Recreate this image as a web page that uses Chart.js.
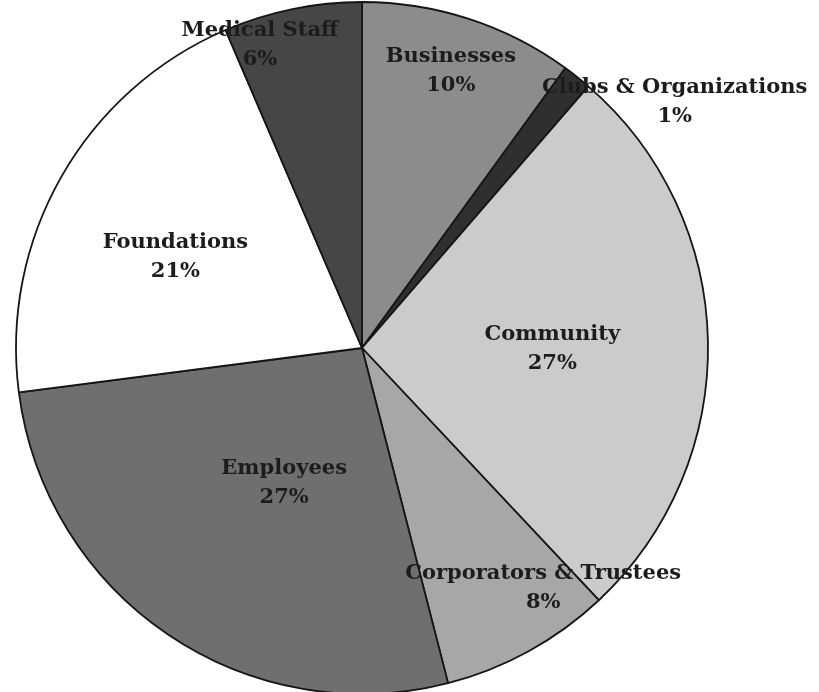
<!DOCTYPE html>
<html>
<head>
<meta charset="utf-8">
<script src="https://cdn.jsdelivr.net/npm/chart.js@4"></script>
<style>
  html, body { margin: 0; padding: 0; background: #fff; }
  #wrap { width: 819px; height: 692px; position: relative; }
</style>
</head>
<body>
<div id="wrap"><canvas id="c" width="819" height="692"></canvas></div>
<script>
// ---- data ----
const categories = ["Businesses", "Clubs & Organizations", "Community", "Corporators & Trustees", "Employees", "Foundations", "Medical Staff"];
const shares = [10.0, 1.35, 26.65, 8.0, 26.95, 20.6, 6.45];
const percentLabels = ["10%", "1%", "27%", "8%", "27%", "21%", "6%"];

// ---- styling / label placement (polar: angle in degrees from top clockwise, distance as fraction of radius) ----
const sliceColors = ["#8c8c8c", "#2f2f2f", "#cbcbcb", "#a7a7a7", "#6f6f6f", "#ffffff", "#464646"];
const labelPolar = [[17.8, 0.84], [51.8, 1.15], [90.3, 0.55], [143, 0.87], [210, 0.45], [296, 0.6], [341.4, 0.925]];

const labelPlugin = {
  id: 'sliceLabels',
  afterDatasetsDraw(chart) {
    const ctx = chart.ctx;
    const meta = chart.getDatasetMeta(0);
    ctx.save();
    ctx.font = 'bold 21px "DejaVu Serif"';
    ctx.fillStyle = '#1c1c1c';
    ctx.textAlign = 'center';
    ctx.textBaseline = 'middle';
    meta.data.forEach((arc, i) => {
      const p = arc.getProps(['x', 'y', 'outerRadius']);
      const a = labelPolar[i][0] * Math.PI / 180;
      const d = labelPolar[i][1] * p.outerRadius;
      const cx = p.x + d * Math.sin(a);
      const cy = p.y - d * Math.cos(a);
      ctx.fillText(categories[i], cx, cy - 14.5);
      ctx.fillText(percentLabels[i], cx, cy + 14.5);
    });
    ctx.restore();
  }
};

new Chart(document.getElementById('c'), {
  type: 'pie',
  data: {
    labels: categories,
    datasets: [{
      data: shares,
      backgroundColor: sliceColors,
      borderColor: '#151515',
      borderWidth: 1.8,
      radius: 346,
      clip: false
    }]
  },
  options: {
    responsive: false,
    animation: false,
    layout: { padding: { left: 16, right: 111, top: 4, bottom: 0 } },
    plugins: { legend: { display: false }, tooltip: { enabled: false } }
  },
  plugins: [labelPlugin]
});
</script>
</body>
</html>
